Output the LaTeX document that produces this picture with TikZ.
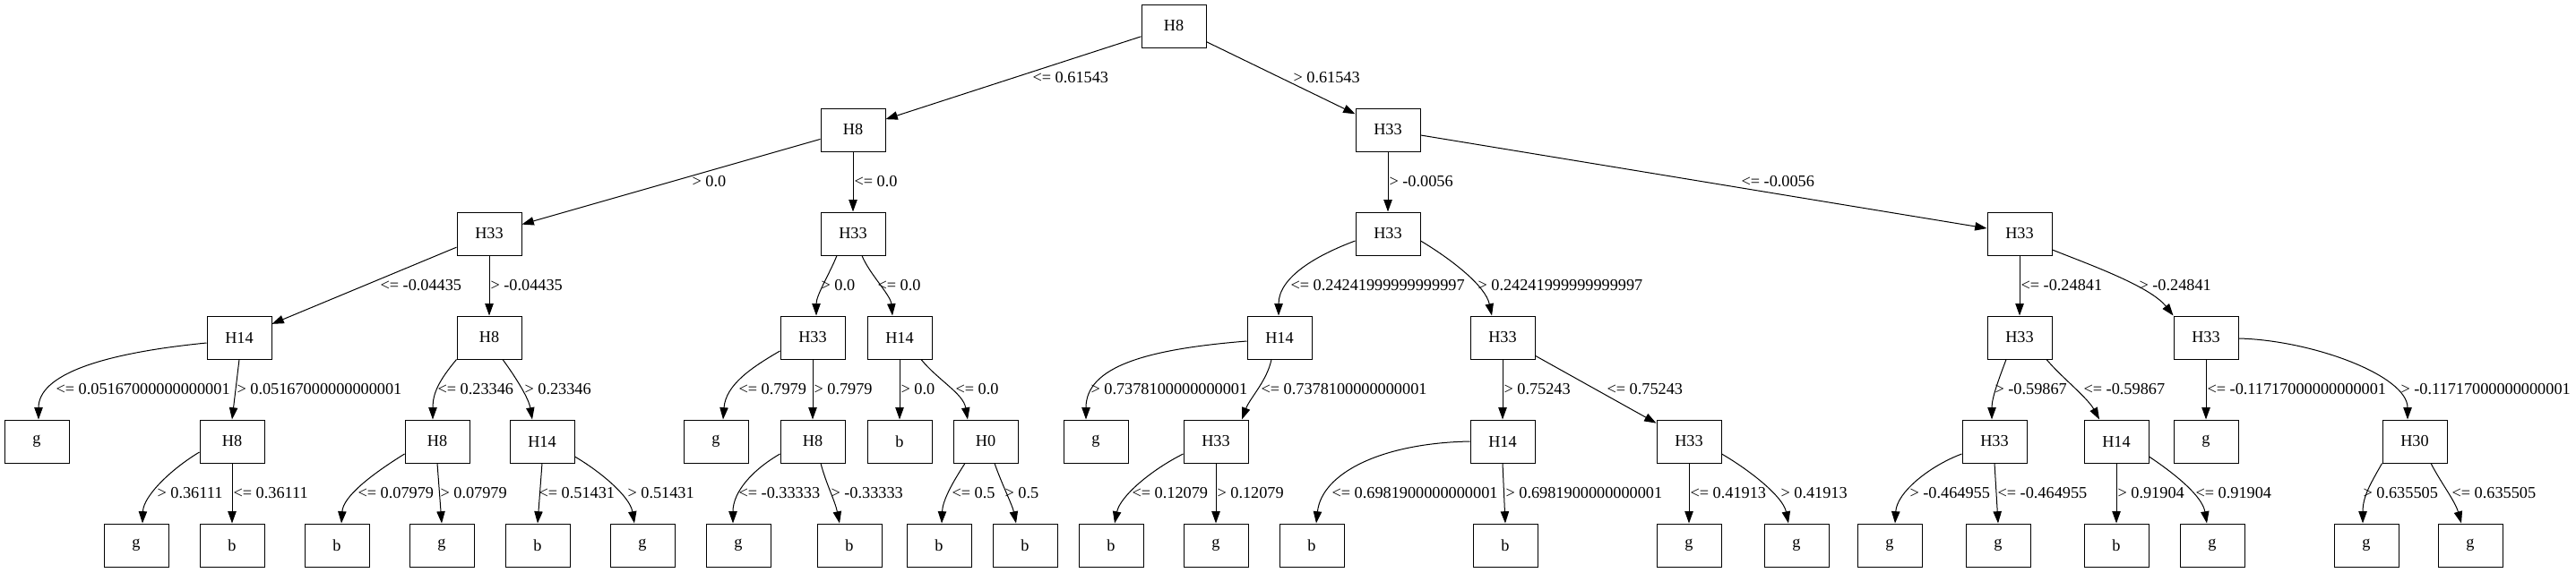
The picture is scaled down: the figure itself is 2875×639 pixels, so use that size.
\documentclass[tikz,border=0pt]{standalone}
\usepackage{fontspec}
\setmainfont{Liberation Serif}
\usepackage{tikz}
\usetikzlibrary{calc, arrows.meta}

\begin{document}
\begin{tikzpicture}[x=0.75pt,y=-0.75pt,line width=0.75pt,>={Triangle[length=10pt,width=7pt]},
  box/.style={draw,rectangle,minimum width=54pt,minimum height=36pt,inner sep=0pt,font=\fontsize{13.7pt}{16pt}\selectfont},
  lbl/.style={anchor=west,inner sep=0pt,font=\fontsize{13.7pt}{16pt}\selectfont}]
\useasboundingbox (0,0) rectangle (2875,639);
\draw node [box] (N1) at (1310,29) {H8};
\draw node [box] (N2) at (952,145) {H8};
\draw node [box] (N3) at (1549,145) {H33};
\draw node [box] (N4) at (546,261) {H33};
\draw node [box] (N5) at (952,261) {H33};
\draw node [box] (N6) at (1549,261) {H33};
\draw node [box] (N7) at (2254,261) {H33};
\draw node [box] (N8) at (267,377) {H14};
\draw node [box] (N9) at (546,377) {H8};
\draw node [box] (N10) at (907,377) {H33};
\draw node [box] (N11) at (1004,377) {H14};
\draw node [box] (N12) at (1428,377) {H14};
\draw node [box] (N13) at (1677,377) {H33};
\draw node [box] (N14) at (2254,377) {H33};
\draw node [box] (N15) at (2462,377) {H33};
\draw node [box] (N16) at (41,493) {g};
\draw node [box] (N17) at (259,493) {H8};
\draw node [box] (N18) at (488,493) {H8};
\draw node [box] (N19) at (605,493) {H14};
\draw node [box] (N20) at (799,493) {g};
\draw node [box] (N21) at (907,493) {H8};
\draw node [box] (N22) at (1004,493) {b};
\draw node [box] (N23) at (1100,493) {H0};
\draw node [box] (N24) at (1223,493) {g};
\draw node [box] (N25) at (1357,493) {H33};
\draw node [box] (N26) at (1677,493) {H14};
\draw node [box] (N27) at (1885,493) {H33};
\draw node [box] (N28) at (2226,493) {H33};
\draw node [box] (N29) at (2362,493) {H14};
\draw node [box] (N30) at (2462,493) {g};
\draw node [box] (N31) at (2695,493) {H30};
\draw node [box] (N32) at (152,609) {g};
\draw node [box] (N33) at (259,609) {b};
\draw node [box] (N34) at (376,609) {b};
\draw node [box] (N35) at (493,609) {g};
\draw node [box] (N36) at (600,609) {b};
\draw node [box] (N37) at (717,609) {g};
\draw node [box] (N38) at (824,609) {g};
\draw node [box] (N39) at (948,609) {b};
\draw node [box] (N40) at (1048,609) {b};
\draw node [box] (N41) at (1144,609) {b};
\draw node [box] (N42) at (1240,609) {b};
\draw node [box] (N43) at (1357,609) {g};
\draw node [box] (N44) at (1464,609) {b};
\draw node [box] (N45) at (1680,609) {b};
\draw node [box] (N46) at (1885,609) {g};
\draw node [box] (N47) at (2005,609) {g};
\draw node [box] (N48) at (2109,609) {g};
\draw node [box] (N49) at (2230,609) {g};
\draw node [box] (N50) at (2362,609) {b};
\draw node [box] (N51) at (2469,609) {g};
\draw node [box] (N52) at (2641,609) {g};
\draw node [box] (N53) at (2757,609) {g};

\draw [->] (N1) -- (N2);
\draw [->] (N1) -- (N3);
\draw [->] (N2) -- (N4);
\draw [->] (N2) -- (N5);
\draw [->] (N3) -- (N6);
\draw [->] (N3) -- (N7);
\draw [->] (N4) -- (N8);
\draw [->] (N4) -- (N9);
\draw [->] ($ (N5.south) + (-18,0) $) .. controls ($ (N5.south) + (-26,20) $) and ($ (N10.north) + (4,-23) $) .. ($ (N10.north) + (4,0) $);
\draw [->] ($ (N5.south) + (10,0) $) .. controls ($ (N5.south) + (18,20) $) and ($ (N11.north) + (-10,-23) $) .. ($ (N11.north) + (-8,0) $);
\draw [->] ($ (N6.west) + (0,8) $) .. controls ($ (N6.west) + (-43,24) $) and ($ (N12.north) + (-1,-43) $) .. ($ (N12.north) + (-1,0) $);
\draw [->] ($ (N6.east) + (0,8) $) .. controls ($ (N6.east) + (35,29) $) and ($ (N13.north) + (-19,-33) $) .. ($ (N13.north) + (-12,0) $);
\draw [->] (N7) -- (N14);
\draw [->] ($ (N7.east) + (0,18) $) .. controls ($ (N7.east) + (40,34) $) and ($ (N15.north west) + (-26,-33) $) .. (N15.north west);
\draw [->] ($ (N8.west) + (0,6) $) .. controls ($ (N8.west) + (-121,18) $) and ($ (N16.north) + (2,-49) $) .. ($ (N16.north) + (2,0) $);
\draw [->] (N8.south) -- (N17.north);
\draw [->] (N9.south west) .. controls ($ (N9.south west) + (-20,24) $) and ($ (N18.north) + (-5,-29) $) .. ($ (N18.north) + (-5,0) $);
\draw [->] ($ (N9.south) + (15,0) $) .. controls ($ (N9.south) + (29,19) $) and ($ (N19.north) + (-15,-24) $) .. ($ (N19.north) + (-11,0) $);
\draw [->] ($ (N10.west) + (0,15) $) .. controls ($ (N10.west) + (-31,33) $) and ($ (N20.north) + (11,-39) $) .. ($ (N20.north) + (8,0) $);
\draw [->] (N10) -- (N21);
\draw [->] (N11) -- (N22);
\draw [->] ($ (N11.south) + (24,0) $) .. controls ($ (N11.south) + (44,24) $) and ($ (N23.north) + (-25,-29) $) .. ($ (N23.north) + (-20,0) $);
\draw [->] ($ (N12.west) + (0,4) $) .. controls ($ (N12.west) + (-112,13) $) and ($ (N24.north) + (-11,-59) $) .. ($ (N24.north) + (-11,0) $);
\draw [->] ($ (N12.south) + (-9,0) $) .. controls ($ (N12.south) + (-14,24) $) and ($ (N25.north) + (38,-24) $) .. ($ (N25.north) + (29,0) $);
\draw [->] (N13) -- (N26);
\draw [->] (N13) -- (N27);
\draw [->] ($ (N14.south) + (-15,0) $) .. controls ($ (N14.south) + (-24,24) $) and ($ (N28.north) + (-3,-24) $) .. ($ (N28.north) + (-3,0) $);
\draw [->] ($ (N14.south) + (30,0) $) .. controls ($ (N14.south) + (46,19) $) and ($ (N29.north) + (-32,-24) $) .. ($ (N29.north) + (-19,0) $);
\draw [->] (N15) -- (N30);
\draw [->] ($ (N15.east) + (0,1) $) .. controls ($ (N15.east) + (82,3) $) and ($ (N31.north) + (-8,-49) $) .. ($ (N31.north) + (-8,0) $);
\draw [->] ($ (N17.west) + (0,12) $) .. controls ($ (N17.west) + (-33,32) $) and ($ (N32.north) + (8,-30) $) .. ($ (N32.north) + (7,0) $);
\draw [->] (N17) -- (N33);
\draw [->] ($ (N18.west) + (0,14) $) .. controls ($ (N18.west) + (-37,37) $) and ($ (N34.north) + (7,-30) $) .. ($ (N34.north) + (5,0) $);
\draw [->] (N18.south) -- (N35.north);
\draw [->] (N19.south) -- (N36.north);
\draw [->] ($ (N19.east) + (0,17) $) .. controls ($ (N19.east) + (29,34) $) and ($ (N37.north) + (-14,-30) $) .. ($ (N37.north) + (-9,0) $);
\draw [->] ($ (N21.west) + (0,14) $) .. controls ($ (N21.west) + (-31,32) $) and ($ (N38.north) + (-6,-35) $) .. ($ (N38.north) + (-6,0) $);
\draw [->] ($ (N21.south) + (9,0) $) .. controls ($ (N21.south) + (15,23) $) and ($ (N39.north) + (-16,-25) $) .. ($ (N39.north) + (-11,0) $);
\draw [->] ($ (N23.south) + (-23,0) $) .. controls ($ (N23.south) + (-38,23) $) and ($ (N40.north) + (4,-25) $) .. ($ (N40.north) + (3,0) $);
\draw [->] ($ (N23.south) + (10,0) $) .. controls ($ (N23.south) + (18,23) $) and ($ (N41.north) + (-14,-20) $) .. ($ (N41.north) + (-10,0) $);
\draw [->] ($ (N25.west) + (0,14) $) .. controls ($ (N25.west) + (-36,32) $) and ($ (N42.north) + (10,-30) $) .. ($ (N42.north) + (4,0) $);
\draw [->] (N25) -- (N43);
\draw [->] (N26.west) .. controls ($ (N26.west) + (-101,2) $) and ($ (N44.north) + (11,-55) $) .. ($ (N44.north) + (5,0) $);
\draw [->] (N26.south) -- (N45.north);
\draw [->] (N27) -- (N46);
\draw [->] ($ (N27.east) + (0,14) $) .. controls ($ (N27.east) + (31,32) $) and ($ (N47.north) + (-15,-30) $) .. ($ (N47.north) + (-9,0) $);
\draw [->] ($ (N28.west) + (0,14) $) .. controls ($ (N28.west) + (-35,27) $) and ($ (N48.north) + (8,-35) $) .. ($ (N48.north) + (6,0) $);
\draw [->] (N28.south) -- (N49.north);
\draw [->] (N29) -- (N50);
\draw [->] ($ (N29.east) + (0,17) $) .. controls ($ (N29.east) + (30,37) $) and ($ (N51.north) + (-11,-30) $) .. ($ (N51.north) + (-6,0) $);
\draw [->] (N31.south west) .. controls ($ (N31.south west) + (-13,23) $) and ($ (N52.north) + (-4,-30) $) .. ($ (N52.north) + (-4,0) $);
\draw [->] ($ (N31.south) + (18,0) $) .. controls ($ (N31.south) + (30,23) $) and ($ (N53.north) + (-17,-25) $) .. ($ (N53.north) + (-10,0) $);

\draw node [lbl] (E1) at (1152,87) {<= 0.61543};
\draw node [lbl] (E2) at (1443,87) {> 0.61543};
\draw node [lbl] (E3) at (772,203) {> 0.0};
\draw node [lbl] (E4) at (953,203) {<= 0.0};
\draw node [lbl] (E5) at (1550,203) {> -0.0056};
\draw node [lbl] (E6) at (1943,203) {<= -0.0056};
\draw node [lbl] (E7) at (424,319) {<= -0.04435};
\draw node [lbl] (E8) at (547,319) {> -0.04435};
\draw node [lbl] (E9) at (916,319) {> 0.0};
\draw node [lbl] (E10) at (979,319) {<= 0.0};
\draw node [lbl] (E11) at (1440,319) {<= 0.24241999999999997};
\draw node [lbl] (E12) at (1649,319) {> 0.24241999999999997};
\draw node [lbl] (E13) at (2255,319) {<= -0.24841};
\draw node [lbl] (E14) at (2387,319) {> -0.24841};
\draw node [lbl] (E15) at (62,435) {<= 0.05167000000000001};
\draw node [lbl] (E16) at (264,435) {> 0.05167000000000001};
\draw node [lbl] (E17) at (488,435) {<= 0.23346};
\draw node [lbl] (E18) at (585,435) {> 0.23346};
\draw node [lbl] (E19) at (824,435) {<= 0.7979};
\draw node [lbl] (E20) at (908,435) {> 0.7979};
\draw node [lbl] (E21) at (1005,435) {> 0.0};
\draw node [lbl] (E22) at (1066,435) {<= 0.0};
\draw node [lbl] (E23) at (1217,435) {> 0.7378100000000001};
\draw node [lbl] (E24) at (1407,435) {<= 0.7378100000000001};
\draw node [lbl] (E25) at (1678,435) {> 0.75243};
\draw node [lbl] (E26) at (1793,435) {<= 0.75243};
\draw node [lbl] (E27) at (2226,435) {> -0.59867};
\draw node [lbl] (E28) at (2325,435) {<= -0.59867};
\draw node [lbl] (E29) at (2463,435) {<= -0.11717000000000001};
\draw node [lbl] (E30) at (2679,435) {> -0.11717000000000001};
\draw node [lbl] (E31) at (175,551) {> 0.36111};
\draw node [lbl] (E32) at (260,551) {<= 0.36111};
\draw node [lbl] (E33) at (399,551) {<= 0.07979};
\draw node [lbl] (E34) at (491,551) {> 0.07979};
\draw node [lbl] (E35) at (601,551) {<= 0.51431};
\draw node [lbl] (E36) at (700,551) {> 0.51431};
\draw node [lbl] (E37) at (824,551) {<= -0.33333};
\draw node [lbl] (E38) at (927,551) {> -0.33333};
\draw node [lbl] (E39) at (1062,551) {<= 0.5};
\draw node [lbl] (E40) at (1121,551) {> 0.5};
\draw node [lbl] (E41) at (1263,551) {<= 0.12079};
\draw node [lbl] (E42) at (1358,551) {> 0.12079};
\draw node [lbl] (E43) at (1486,551) {<= 0.6981900000000001};
\draw node [lbl] (E44) at (1680,551) {> 0.6981900000000001};
\draw node [lbl] (E45) at (1886,551) {<= 0.41913};
\draw node [lbl] (E46) at (1987,551) {> 0.41913};
\draw node [lbl] (E47) at (2131,551) {> -0.464955};
\draw node [lbl] (E48) at (2229,551) {<= -0.464955};
\draw node [lbl] (E49) at (2363,551) {> 0.91904};
\draw node [lbl] (E50) at (2450,551) {<= 0.91904};
\draw node [lbl] (E51) at (2637,551) {> 0.635505};
\draw node [lbl] (E52) at (2736,551) {<= 0.635505};
\end{tikzpicture}
\end{document}
